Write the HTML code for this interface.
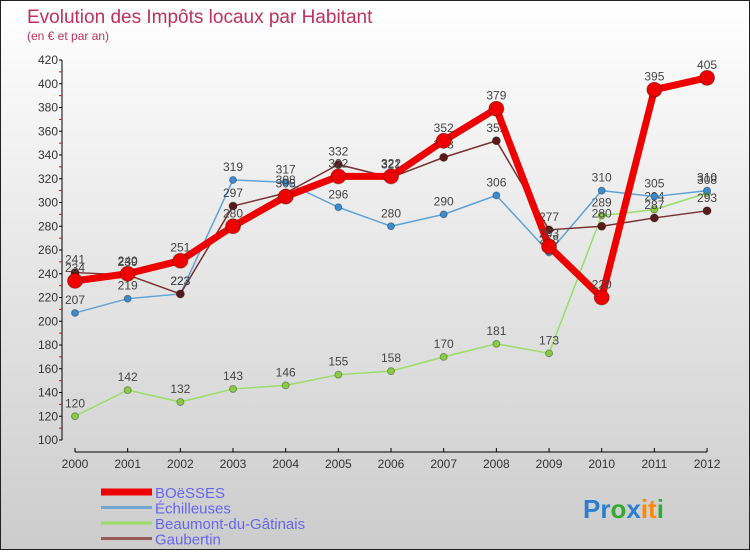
<!DOCTYPE html>
<html><head><meta charset="utf-8"><style>
body{margin:0;width:750px;height:550px;overflow:hidden;font-family:"Liberation Sans",sans-serif}
#wrap{position:absolute;left:0;top:0;width:748px;height:548px;border:1px solid #222;background:linear-gradient(#fff,#ccc)}
</style></head><body>
<div id="wrap">
<svg id="chart" width="748" height="548"></svg>
</div>
<script>
const years=["2000","2001","2002","2003","2004","2005","2006","2007","2008","2009","2010","2011","2012"];
const boesses=[234,240,251,280,305,322,322,352,379,263,220,395,405];
const echilleuses=[207,219,223,319,317,296,280,290,306,258,310,305,310];
const beaumont=[120,142,132,143,146,155,158,170,181,173,289,294,308];
const gaubertin=[241,239,223,297,308,332,321,338,352,277,280,287,293];
const yTicks=[100,120,140,160,180,200,220,240,260,280,300,320,340,360,380,400,420];
const NS="http://www.w3.org/2000/svg";
const svg=document.getElementById('chart');
function X(i){return 74+i*52.67;}
function Y(v){return 59+(420-v)*1.1875;}
function mk(t,a,p){const e=document.createElementNS(NS,t);for(const k in a)e.setAttribute(k,a[k]);(p||svg).appendChild(e);return e;}
let t=mk('text',{x:26,y:22,'font-size':19,fill:'#c0305a'});t.textContent='Evolution des Impôts locaux par Habitant';

t=mk('text',{x:26,y:39,'font-size':12,fill:'#c0305a'});t.textContent='(en € et par an)';

// y axis
let ax=mk('line',{x1:61,y1:Y(420),x2:61,y2:Y(100),stroke:'#000'});

yTicks.forEach((v,i)=>{
 mk('line',{x1:58,y1:Y(v),x2:61,y2:Y(v),stroke:'#000'});
 if(i<yTicks.length-1)mk('line',{x1:58,y1:Y(v+10),x2:61,y2:Y(v+10),stroke:'#e00'});
 const l=mk('text',{x:57,y:Y(v)+4,'font-size':12,fill:'#333','text-anchor':'end'});l.textContent=v;
 
});
ax=mk('line',{x1:X(0),y1:451,x2:X(12),y2:451,stroke:'#000'});

years.forEach((y,i)=>{
 mk('line',{x1:X(i),y1:447,x2:X(i),y2:451,stroke:'#000'});
 const l=mk('text',{x:X(i),y:467,'font-size':12,fill:'#333','text-anchor':'middle'});l.textContent=y;
 
});
function series(data,color,w,r,dot,name){
 const g=mk('g',{});
 mk('polyline',{points:data.map((v,i)=>X(i)+','+Y(v)).join(' '),fill:'none',stroke:color,'stroke-width':w,'stroke-linejoin':'round'},g);
 data.forEach((v,i)=>{
  const c=mk('circle',{cx:X(i),cy:Y(v),r:r,fill:dot,stroke:'rgba(0,0,0,0.3)'},g);
  
  const l=mk('text',{x:X(i),y:Y(v)-9,'font-size':12,fill:'#444','text-anchor':'middle'},g);l.textContent=v;
 });
}
series(beaumont,'#99dd66',1.5,3.5,'#88cc44','beaumont');
series(echilleuses,'#5fa2d6',1.5,3.5,'#3a8ccc','echilleuses');
series(gaubertin,'#7a3030',1.5,4,'#5a1a1a','gaubertin');
series(boesses,'#ee0000',7,7.5,'#ee0000','boesses');
const leg=[['BOëSSES','#ee0000',7],['Échilleuses','#6fa6d2',3],['Beaumont-du-Gâtinais','#99dd66',3],['Gaubertin','#9a5a5a',3]];
leg.forEach((L,i)=>{
 const g=mk('g',{});
 const y=491+i*15.5;
 mk('line',{x1:100,y1:y,x2:151,y2:y,stroke:L[1],'stroke-width':L[2]},g);
 const tx=mk('text',{x:154,y:y+6,'font-size':15,fill:'#6666ee'},g);tx.textContent=L[0];
});
const lg=mk('text',{x:582,y:517,'font-size':26,'font-weight':'bold'});

[['Pr','#2a7fd0'],['o','#33aa33'],['x','#2a7fd0'],['it','#ff8800'],['i','#33aa33']].forEach(p=>{const s=mk('tspan',{fill:p[1]},lg);s.textContent=p[0];});
</script>
</body></html>
